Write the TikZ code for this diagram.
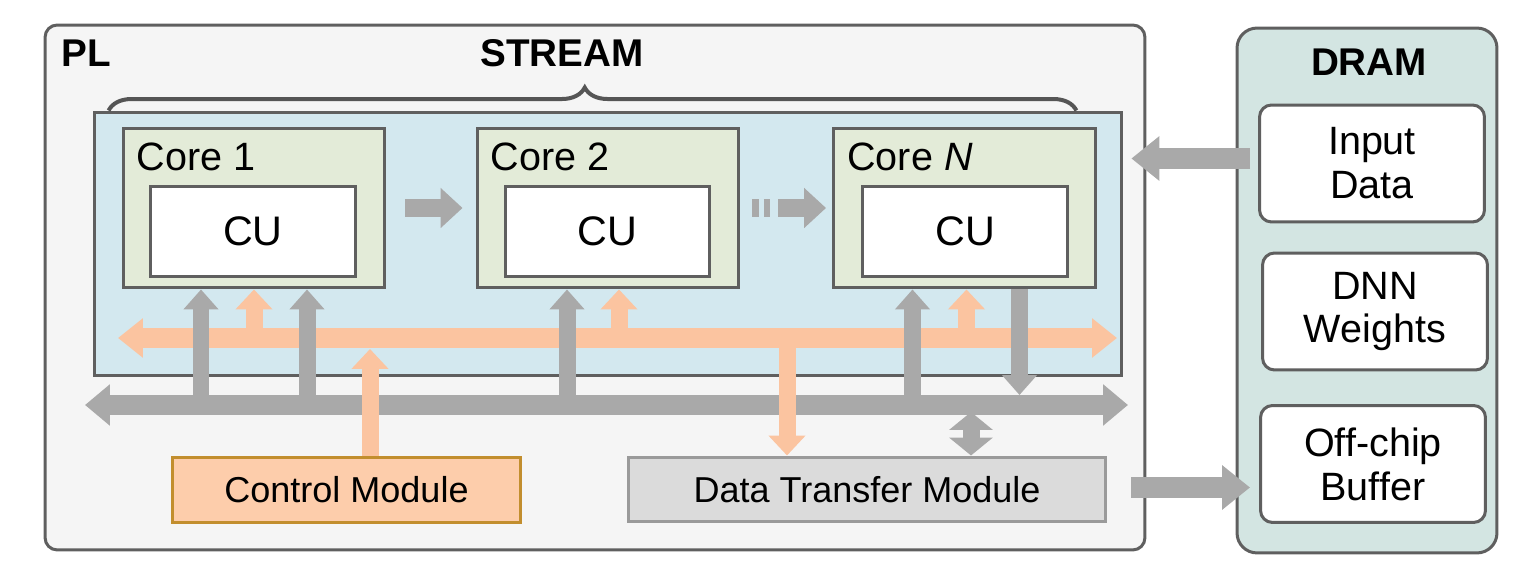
\documentclass[tikz,border=0pt]{standalone}
\usepackage{fontspec}
\setmainfont{Liberation Sans}
\usetikzlibrary{arrows.meta,decorations.pathreplacing}

\definecolor{plfill}{HTML}{F5F5F5}
\definecolor{edgegrey}{HTML}{5F5F5F}
\definecolor{streamblue}{HTML}{D3E8EF}
\definecolor{corefill}{HTML}{E3EBD8}
\definecolor{dramfill}{HTML}{D3E5E2}
\definecolor{arrowgrey}{HTML}{A9A9A9}
\definecolor{peach}{HTML}{FBC4A0}
\definecolor{ctrlfill}{HTML}{FDCDAB}
\definecolor{ctrledge}{HTML}{C28E2E}
\definecolor{dtmfill}{HTML}{DBDBDB}
\definecolor{dtmedge}{HTML}{9A9A9A}

\tikzset{
    box/.style={draw=edgegrey, line width=0.06cm, inner sep=0pt},
    corebox/.style={box, fill=corefill, minimum width=5.24cm, minimum height=3.2cm},
    cubox/.style={box, fill=white, minimum width=4.1cm, minimum height=1.82cm,
        font=\fontsize{23.5}{28}\selectfont},
    membox/.style={box, fill=white, rounded corners=0.24cm, minimum width=4.5cm,
        minimum height=2.34cm, align=center, font=\fontsize{22.5}{25}\selectfont},
    modbox/.style={box, minimum height=1.3cm, font=\fontsize{20.5}{24}\selectfont},
    title/.style={font=\fontsize{22}{26}\selectfont\bfseries},
    corelbl/.style={anchor=base west, inner sep=0pt, font=\fontsize{22.5}{26}\selectfont},
    greybus/.style={draw=arrowgrey, line width=0.4cm,
        {Triangle[width=0.8cm,length=0.5cm]}-{Triangle[width=0.8cm,length=0.5cm]}},
    orangebus/.style={draw=peach, line width=0.4cm,
        {Triangle[width=0.76cm,length=0.5cm]}-{Triangle[width=0.76cm,length=0.5cm]}},
    greyup/.style={draw=arrowgrey, line width=0.34cm, -{Triangle[width=0.68cm,length=0.4cm]}},
    orangeup/.style={draw=peach, line width=0.34cm, -{Triangle[width=0.72cm,length=0.4cm]}},
    coreflow/.style={draw=arrowgrey, line width=0.36cm, -{Triangle[width=0.78cm,length=0.44cm]}},
    fatarrow/.style={draw=arrowgrey, line width=0.42cm, -{Triangle[width=0.86cm,length=0.56cm]}},
    twoway/.style={draw=arrowgrey, line width=0.34cm,
        {Triangle[width=0.86cm,length=0.36cm]}-{Triangle[width=0.86cm,length=0.36cm]}}
}

\begin{document}
\begin{tikzpicture}[x=0.02cm, y=-0.02cm]
    \useasboundingbox (0,0) rectangle (1536,580);

    % PL and DRAM
    \node[box, fill=plfill, rounded corners=0.24cm, minimum width=22cm, minimum height=10.5cm] (pl) at (595,287.5) {};
    \node[box, fill=dramfill, rounded corners=0.4cm, minimum width=5.2cm, minimum height=10.5cm] (dram) at (1367,290.5) {};
    \node[title, anchor=base west, inner sep=0pt] (pllbl) at (61,67) {PL};
    \node[title] (dramlbl) at (1369,62) {DRAM};
    \node[title] (streamlbl) at (562,53) {STREAM};

    \node[membox] (input) at (1372,163.5) {Input\\Data};
    \node[membox] (weights) at (1375,311.5) {DNN\\Weights};
    \node[membox] (buffer) at (1373,464) {Off-chip\\Buffer};

    % stream of cores
    \node[box, fill=streamblue, minimum width=20.56cm, minimum height=5.28cm] (stream) at (608,244) {};
    \draw[edgegrey!90!black, line width=0.08cm, decorate, decoration={brace, amplitude=0.46cm, aspect=0.492}]
        ([shift={(16,0)}]stream.north west) -- ([shift={(-47,0)}]stream.north east);

    \node[corebox] (core1) at (254,208) {};
    \node[corebox] (core2) at (608,208) {};
    \node[corebox] (coreN) at (964.5,208) {};
    \node[cubox] (cu1) at (253,231.5) {CU};
    \node[cubox] (cu2) at (607.5,231.5) {CU};
    \node[cubox] (cuN) at (965,231.5) {CU};
    \foreach \c/\t in {core1/Core 1, core2/Core 2, coreN/Core \textit{N}}{
        \node[corelbl] (\c-lbl) at ([shift={(15,44)}]\c.north west) {\t};
    }

    \draw[coreflow] ([shift={(19,0)}]core1.east) -- ([shift={(-13,0)}]core2.west);
    \draw[arrowgrey, line width=0.36cm, dash pattern=on 0.13cm off 0.1cm]
        ([shift={(12,0)}]core2.east) -- ([shift={(31,0)}]core2.east);
    \draw[coreflow] ([shift={(38,0)}]core2.east) -- ([shift={(-6,0)}]coreN.west);

    % modules
    \node[modbox, draw=ctrledge, fill=ctrlfill, minimum width=6.98cm] (ctrl) at (346.5,490) {Control Module};
    \node[modbox, draw=dtmedge, fill=dtmfill, minimum width=9.56cm] (dtm) at (867,489.5) {Data Transfer Module};

    % buses
    \coordinate (obusL) at (118,338);
    \coordinate (obusR) at (1117,338);
    \coordinate (obot) at (0,349);
    \coordinate (gbusL) at (85,405);
    \coordinate (gbusR) at (1128,405);
    \coordinate (gtop) at (0,395);
    \coordinate (gbot) at (0,412);
    \draw[orangebus] (obusL) -- (obusR);
    \draw[greybus] (gbusL) -- (gbusR);

    \foreach \c/\dx in {core1/-53, core1/53, core2/-41, coreN/-52}{
        \path ([shift={(\dx,0)}]\c.south) coordinate (top);
        \draw[greyup] (top |- gbusL) -- (top);
    }
    \foreach \c/\dx in {core1/0, core2/11, coreN/2}{
        \path ([shift={(\dx,0)}]\c.south) coordinate (top);
        \draw[orangeup] (top |- obusL) -- (top);
    }
    \path ([shift={(55,0)}]coreN.south) coordinate (down);
    \draw[greyup] (down) -- (down |- gtop);

    \path ([shift={(23.5,0)}]ctrl.north) coordinate (cup);
    \draw[orangeup] (cup) -- (cup |- obot);
    \path ([shift={(-80,0)}]dtm.north) coordinate (ddown);
    \draw[orangeup] (ddown |- obusL) -- (ddown);
    \path ([shift={(104,0)}]dtm.north) coordinate (dboth);
    \draw[twoway] (dboth |- gbot) -- (dboth);

    % to and from DRAM
    \path (stream.east |- input.west) coordinate (inEnd);
    \draw[fatarrow] ([shift={(-8,-5)}]input.west) -- ([shift={(8,-5)}]inEnd);
    \path (buffer.west |- dtm.east) coordinate (bufIn);
    \draw[fatarrow] ([shift={(24,-2)}]dtm.east) -- ([shift={(-9,-2)}]bufIn);
\end{tikzpicture}
\end{document}
